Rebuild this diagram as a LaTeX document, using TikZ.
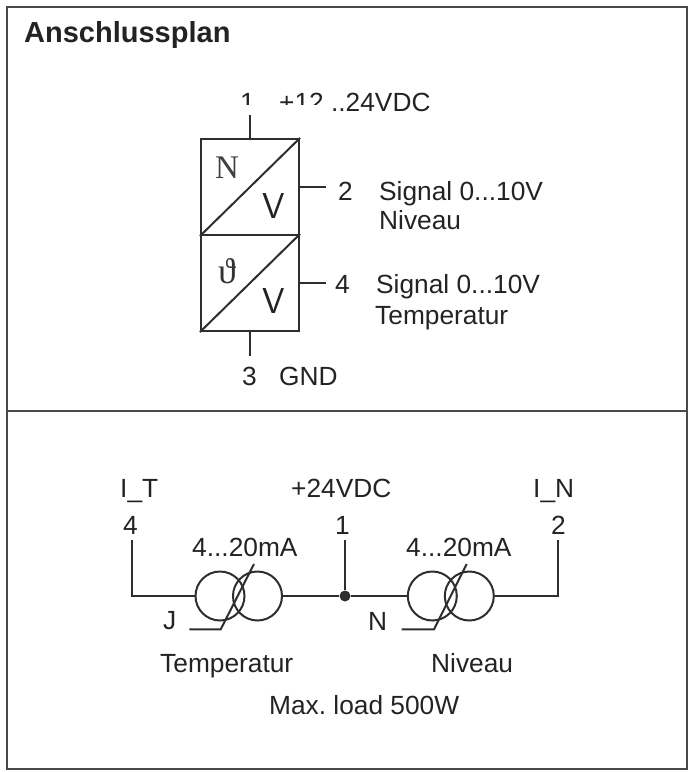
\documentclass[tikz,border=0pt]{standalone}
\usepackage{fontspec}
\usepackage{amssymb}
\usepackage{amsmath}
\setmainfont{Liberation Sans}
\newfontfamily\serifglyph{Liberation Serif}
\definecolor{ink}{HTML}{232323}
\definecolor{wire}{HTML}{2E2E2E}
\definecolor{frameline}{HTML}{4A4A4A}
\tikzset{
  lbl/.style={anchor=base west,inner sep=0pt,text=ink,font=\fontsize{26.3}{26.3}\selectfont},
  cell/.style={draw=wire,line width=2.2pt,minimum width=98pt,minimum height=96pt,inner sep=0pt},
  ring/.style={circle,draw=wire,line width=2pt,minimum size=49pt,inner sep=0pt},
  conn/.style={draw=wire,line width=2pt}
}

\begin{document}
\begin{tikzpicture}[x=1pt,y=-1pt]
\useasboundingbox (0,0) rectangle (693,772);
% frame
\draw[frameline,line width=2pt] (7,7) rectangle (687,769);
\draw[frameline,line width=2pt] (7,411) -- (687,411);
\node[lbl,font=\fontsize{29}{29}\selectfont\bfseries] (title) at (24,42) {Anschlussplan};
% sensor block
\begin{scope}
\node[cell] (boxn) at (250,187) {};
\node[cell] (boxt) at (250,283) {};
\draw[conn] (boxn.south west) -- (boxn.north east);
\draw[conn] (boxt.south west) -- (boxt.north east);
\coordinate (s1) at (250,115);
\coordinate (s2) at (326,187);
\coordinate (s4) at (326,283);
\coordinate (s3) at (250,356);
\draw[conn] (s1) -- (boxn.north);
\draw[conn] (boxn.east) -- (s2);
\draw[conn] (boxt.east) -- (s4);
\draw[conn] (boxt.south) -- (s3);
\node[lbl,text=black!75,font=\fontsize{33}{33}\selectfont\serifglyph] (symn) at (215,178.5) {N};
\node[lbl,text=black!80,font=\fontsize{36}{36}\selectfont\serifglyph] (symt) at (218,283) {ϑ};
\node[lbl,font=\fontsize{36}{36}\selectfont\sffamily] (voltn) at (262.5,218) {V};
\node[lbl,font=\fontsize{36}{36}\selectfont\sffamily] (voltt) at (262,313) {V};
\node[lbl] (n1) at (240,111) {1};
\node[lbl] (supply) at (279,111) {+12...24VDC};
% the print cuts the foot of these glyphs off
\fill[white] (238,104.5) rectangle (331,113);
\node[lbl] (n2) at (338,200) {2};
\node[lbl] (sig2) at (379,200) {Signal 0...10V};
\node[lbl] (niv2) at (379,229) {Niveau};
\node[lbl] (n4) at (335,293) {4};
\node[lbl] (sig4) at (376,293) {Signal 0...10V};
\node[lbl] (tem4) at (375,324) {Temperatur};
\node[lbl] (n3) at (242,385) {3};
\node[lbl] (gnd) at (279,385) {GND};
\end{scope}
% current outputs
\begin{scope}
\node[ring] (ct1) at (220,596) {};
\node[ring] (ct2) at (257.5,596) {};
\node[ring] (cn1) at (432.3,596) {};
\node[ring] (cn2) at (469.3,596) {};
\node[circle,fill=wire,minimum size=11pt,inner sep=0pt] (hub) at (345,596) {};
\coordinate (p4) at (132.3,540);
\coordinate (p1) at (345,540);
\coordinate (p2) at (557.7,540);
\draw[conn] (p4) |- (ct1.west);
\draw[conn] (ct2.east) -- (hub);
\draw[conn] (hub) -- (cn1.west);
\draw[conn] (cn2.east) -| (p2);
\draw[conn] (p1) -- (hub);
\coordinate (tt) at (254,564);
\coordinate (tk) at (220.7,629.3);
\coordinate (te) at (189.3,629.3);
\coordinate (nt) at (466.7,564);
\coordinate (nk) at (434,629.3);
\coordinate (ne) at (401.7,629.3);
\draw[conn] (tt) -- (tk) -- (te);
\draw[conn] (nt) -- (nk) -- (ne);
\node[lbl] (it) at (120,497) {I\_T};
\node[lbl] (vdc) at (291,497) {+24VDC};
\node[lbl] (in) at (533,497) {I\_N};
\node[lbl] (m4) at (123,534) {4};
\node[lbl] (m1) at (335,534) {1};
\node[lbl] (m2) at (551,534) {2};
\node[lbl] (rt) at (192,556) {4...20mA};
\node[lbl] (rn) at (406,556) {4...20mA};
\node[lbl] (j) at (163,629) {J};
\node[lbl] (n) at (368,630) {N};
\node[lbl] (ltem) at (160,672) {Temperatur};
\node[lbl] (lniv) at (431,672) {Niveau};
\node[lbl] (load) at (269,714) {Max.\ load 500W};
\end{scope}
\end{tikzpicture}
\end{document}
